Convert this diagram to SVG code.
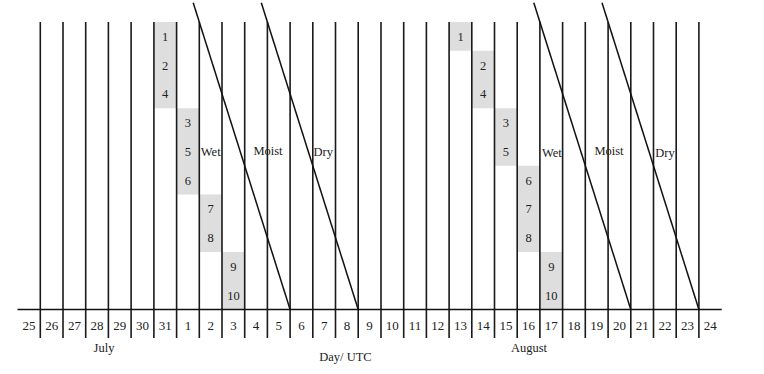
<svg xmlns="http://www.w3.org/2000/svg" width="764" height="374" viewBox="0 0 764 374">
<style>
.box{fill:#dedede;stroke:none}
.v{stroke:#1a1a1a;stroke-width:1.6;fill:none}
.d{stroke:#111;stroke-width:1.5;fill:none}
.ax{stroke:#111;stroke-width:1.5;fill:none}
text{font-family:"Liberation Serif","Times New Roman",serif;fill:#222}
.n{font-size:12.5px;text-anchor:middle}
.lab{font-size:12.5px}
.t{font-size:13px;text-anchor:middle}
</style>
<rect width="764" height="374" fill="#fff"/>
<g id="events-july">
<rect class="box" x="153.9" y="22" width="22.7" height="86.25"/>
<rect class="box" x="176.6" y="108.25" width="22.7" height="86.25"/>
<rect class="box" x="199.3" y="194.5" width="22.7" height="57.5"/>
<rect class="box" x="222" y="252" width="22.7" height="57.5"/>
<text class="n" x="165.2" y="41">1</text>
<text class="n" x="165.2" y="69.7">2</text>
<text class="n" x="165.2" y="98.4">4</text>
<text class="n" x="187.9" y="127.2">3</text>
<text class="n" x="187.9" y="155.9">5</text>
<text class="n" x="187.9" y="184.7">6</text>
<text class="n" x="210.7" y="213.4">7</text>
<text class="n" x="210.7" y="242.2">8</text>
<text class="n" x="233.4" y="270.9">9</text>
<text class="n" x="233.4" y="299.6">10</text>
</g>
<g id="events-august">
<rect class="box" x="449.1" y="22" width="22.7" height="28.75"/>
<rect class="box" x="471.8" y="50.75" width="22.7" height="57.5"/>
<rect class="box" x="494.5" y="108.25" width="22.7" height="57.5"/>
<rect class="box" x="517.2" y="165.75" width="22.7" height="86.25"/>
<rect class="box" x="539.9" y="252" width="22.7" height="57.5"/>
<text class="n" x="460.5" y="41">1</text>
<text class="n" x="483.2" y="69.7">2</text>
<text class="n" x="483.2" y="98.4">4</text>
<text class="n" x="505.9" y="127.2">3</text>
<text class="n" x="505.9" y="155.9">5</text>
<text class="n" x="528.6" y="184.7">6</text>
<text class="n" x="528.6" y="213.4">7</text>
<text class="n" x="528.6" y="242.2">8</text>
<text class="n" x="551.3" y="270.9">9</text>
<text class="n" x="551.3" y="299.6">10</text>
</g>
<g id="grid">
<path class="v" d="M40.3 22V338M63 22V338M85.7 22V338M108.4 22V338M131.1 22V338M153.9 22V338M176.6 22V338M199.3 22V338M222 22V338M244.7 22V338M267.4 22V338M290.1 22V338M312.8 22V338M335.5 22V338M358.2 22V338M381 22V338M403.7 22V338M426.4 22V338M449.1 22V338M471.8 22V338M494.5 22V338M517.2 22V338M539.9 22V338M562.6 22V338M585.3 22V338M608.1 22V338M630.8 22V338M653.5 22V338M676.2 22V338M698.9 22V338"/>
<path class="ax" d="M17.5 309.5H721.7"/>
</g>
<g id="connectors">
<path class="d" d="M193.2 2.7L290.1 309.5"/>
<path class="d" d="M261.3 2.7L358.2 309.5"/>
<path class="d" d="M533.8 2.7L630.8 309.5"/>
<path class="d" d="M602 2.7L698.9 309.5"/>
</g>
<g id="zone-labels">
<text class="lab" x="200.8" y="156">Wet</text>
<text class="lab" x="268" y="155" text-anchor="middle">Moist</text>
<text class="lab" x="323.3" y="156" text-anchor="middle">Dry</text>
<text class="lab" x="542" y="157">Wet</text>
<text class="lab" x="609" y="155" text-anchor="middle">Moist</text>
<text class="lab" x="665" y="157" text-anchor="middle">Dry</text>
</g>
<g id="axis-labels">
<text class="t" x="28.9" y="329.5">25</text>
<text class="t" x="51.7" y="329.5">26</text>
<text class="t" x="74.4" y="329.5">27</text>
<text class="t" x="97.1" y="329.5">28</text>
<text class="t" x="119.8" y="329.5">29</text>
<text class="t" x="142.5" y="329.5">30</text>
<text class="t" x="165.2" y="329.5">31</text>
<text class="t" x="187.9" y="329.5">1</text>
<text class="t" x="210.7" y="329.5">2</text>
<text class="t" x="233.4" y="329.5">3</text>
<text class="t" x="256.1" y="329.5">4</text>
<text class="t" x="278.8" y="329.5">5</text>
<text class="t" x="301.5" y="329.5">6</text>
<text class="t" x="324.2" y="329.5">7</text>
<text class="t" x="346.9" y="329.5">8</text>
<text class="t" x="369.6" y="329.5">9</text>
<text class="t" x="392.3" y="329.5">10</text>
<text class="t" x="415" y="329.5">11</text>
<text class="t" x="437.8" y="329.5">12</text>
<text class="t" x="460.5" y="329.5">13</text>
<text class="t" x="483.2" y="329.5">14</text>
<text class="t" x="505.9" y="329.5">15</text>
<text class="t" x="528.6" y="329.5">16</text>
<text class="t" x="551.3" y="329.5">17</text>
<text class="t" x="574" y="329.5">18</text>
<text class="t" x="596.7" y="329.5">19</text>
<text class="t" x="619.4" y="329.5">20</text>
<text class="t" x="642.2" y="329.5">21</text>
<text class="t" x="664.9" y="329.5">22</text>
<text class="t" x="687.6" y="329.5">23</text>
<text class="t" x="710.3" y="329.5">24</text>
<text class="lab" x="104" y="352" text-anchor="middle">July</text>
<text class="lab" x="529" y="352" text-anchor="middle">August</text>
<text class="lab" x="345.5" y="361" text-anchor="middle">Day/ UTC</text>
</g>
</svg>
